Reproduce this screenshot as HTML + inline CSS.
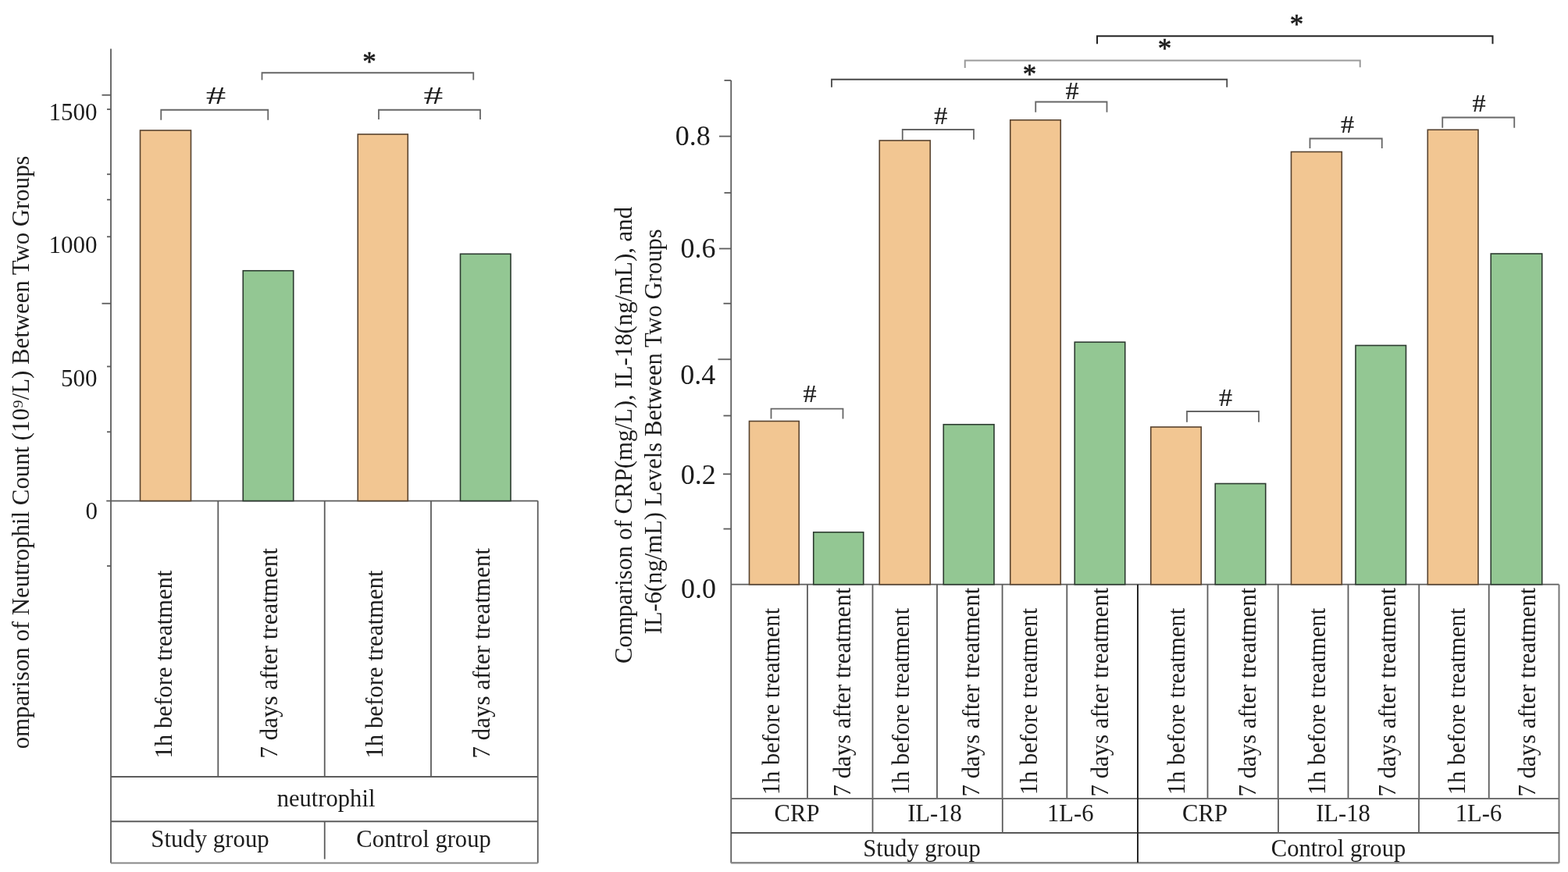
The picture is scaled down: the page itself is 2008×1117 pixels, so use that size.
<!DOCTYPE html>
<html><head><meta charset="utf-8"><style>
html,body{margin:0;padding:0;background:#fff;overflow:hidden;width:2008px;height:1117px;}
svg{display:block;}
text{font-family:'Liberation Serif', 'Times New Roman', serif;fill:#1c1c1c;}
</style></head><body>
<svg width="2008" height="1117" viewBox="0 0 2008 1117">
<rect width="2008" height="1117" fill="#fff"/>
<line x1="142" y1="62.5" x2="142" y2="1105.5" stroke="#5c5c5c" stroke-width="1.8"/>
<line x1="130.5" y1="121.75" x2="142" y2="121.75" stroke="#5c5c5c" stroke-width="1.8"/>
<line x1="137" y1="140" x2="142" y2="140" stroke="#5c5c5c" stroke-width="1.8"/>
<line x1="137" y1="223.25" x2="142" y2="223.25" stroke="#5c5c5c" stroke-width="1.8"/>
<line x1="137" y1="255.75" x2="142" y2="255.75" stroke="#5c5c5c" stroke-width="1.8"/>
<line x1="137" y1="303.25" x2="142" y2="303.25" stroke="#5c5c5c" stroke-width="1.8"/>
<line x1="130.5" y1="388.75" x2="142" y2="388.75" stroke="#5c5c5c" stroke-width="1.8"/>
<line x1="137" y1="469.5" x2="142" y2="469.5" stroke="#5c5c5c" stroke-width="1.8"/>
<line x1="137" y1="553.25" x2="142" y2="553.25" stroke="#5c5c5c" stroke-width="1.8"/>
<line x1="137" y1="725" x2="142" y2="725" stroke="#5c5c5c" stroke-width="1.8"/>
<line x1="136.25" y1="641.6" x2="688.75" y2="641.6" stroke="#5c5c5c" stroke-width="1.8"/>
<rect x="179.5" y="167" width="65.0" height="474.6" fill="#F2C692" stroke="#58432f" stroke-width="1.6"/>
<rect x="311.25" y="346.75" width="64.5" height="294.85" fill="#93C793" stroke="#2c3b30" stroke-width="1.6"/>
<rect x="458.25" y="172" width="64.05" height="469.6" fill="#F2C692" stroke="#58432f" stroke-width="1.6"/>
<rect x="589.5" y="325.3" width="64.5" height="316.3" fill="#93C793" stroke="#2c3b30" stroke-width="1.6"/>
<line x1="279.3" y1="641.6" x2="279.3" y2="995" stroke="#5c5c5c" stroke-width="1.8"/>
<line x1="415.75" y1="641.6" x2="415.75" y2="995" stroke="#5c5c5c" stroke-width="1.8"/>
<line x1="552" y1="641.6" x2="552" y2="995" stroke="#5c5c5c" stroke-width="1.8"/>
<line x1="688.75" y1="641.6" x2="688.75" y2="1105.5" stroke="#5c5c5c" stroke-width="1.8"/>
<line x1="142" y1="995" x2="688.75" y2="995" stroke="#5c5c5c" stroke-width="1.8"/>
<line x1="142" y1="1052.25" x2="688.75" y2="1052.25" stroke="#5c5c5c" stroke-width="1.8"/>
<line x1="142" y1="1105.5" x2="688.75" y2="1105.5" stroke="#888" stroke-width="2.2"/>
<line x1="415.75" y1="1052.25" x2="415.75" y2="1100.5" stroke="#5c5c5c" stroke-width="1.8"/>
<path d="M206.25,153.75 L206.25,140.75 L343.25,140.75 L343.25,153.75" fill="none" stroke="#666" stroke-width="1.8"/>
<path d="M485,153 L485,140.75 L615,140.75 L615,153" fill="none" stroke="#666" stroke-width="1.8"/>
<path d="M335.5,102.5 L335.5,93.25 L606.25,93.25 L606.25,102.5" fill="none" stroke="#666" stroke-width="1.8"/>
<line x1="936.25" y1="103" x2="936.25" y2="1105.5" stroke="#5c5c5c" stroke-width="1.8"/>
<line x1="927.5" y1="103" x2="936.25" y2="103" stroke="#5c5c5c" stroke-width="1.8"/>
<line x1="921" y1="174.6" x2="936.25" y2="174.6" stroke="#5c5c5c" stroke-width="1.8"/>
<line x1="927.5" y1="247" x2="936.25" y2="247" stroke="#5c5c5c" stroke-width="1.8"/>
<line x1="921" y1="318.5" x2="936.25" y2="318.5" stroke="#5c5c5c" stroke-width="1.8"/>
<line x1="926.5" y1="388.75" x2="936.25" y2="388.75" stroke="#5c5c5c" stroke-width="1.8"/>
<line x1="919.5" y1="460.3" x2="936.25" y2="460.3" stroke="#5c5c5c" stroke-width="1.8"/>
<line x1="926.5" y1="532.5" x2="936.25" y2="532.5" stroke="#5c5c5c" stroke-width="1.8"/>
<line x1="926" y1="607.3" x2="936.25" y2="607.3" stroke="#5c5c5c" stroke-width="1.8"/>
<line x1="926.5" y1="677.5" x2="936.25" y2="677.5" stroke="#5c5c5c" stroke-width="1.8"/>
<line x1="936.25" y1="748.7" x2="1996.5" y2="748.7" stroke="#5c5c5c" stroke-width="1.8"/>
<rect x="959.5" y="539.5" width="63.75" height="209.2" fill="#F2C692" stroke="#58432f" stroke-width="1.6"/>
<rect x="1041.75" y="681.75" width="64.0" height="66.95" fill="#93C793" stroke="#2c3b30" stroke-width="1.6"/>
<rect x="1126.25" y="180" width="65.0" height="568.7" fill="#F2C692" stroke="#58432f" stroke-width="1.6"/>
<rect x="1208.25" y="543.75" width="64.75" height="204.95" fill="#93C793" stroke="#2c3b30" stroke-width="1.6"/>
<rect x="1293.75" y="153.75" width="64.5" height="594.95" fill="#F2C692" stroke="#58432f" stroke-width="1.6"/>
<rect x="1376.25" y="438.25" width="64.5" height="310.45" fill="#93C793" stroke="#2c3b30" stroke-width="1.6"/>
<rect x="1473.75" y="547" width="64.5" height="201.7" fill="#F2C692" stroke="#58432f" stroke-width="1.6"/>
<rect x="1556.25" y="619.5" width="64.5" height="129.2" fill="#93C793" stroke="#2c3b30" stroke-width="1.6"/>
<rect x="1653.5" y="194.5" width="64.8" height="554.2" fill="#F2C692" stroke="#58432f" stroke-width="1.6"/>
<rect x="1736" y="442.5" width="64.5" height="306.2" fill="#93C793" stroke="#2c3b30" stroke-width="1.6"/>
<rect x="1828.3" y="166.25" width="64.7" height="582.45" fill="#F2C692" stroke="#58432f" stroke-width="1.6"/>
<rect x="1909.25" y="325" width="65.5" height="423.7" fill="#93C793" stroke="#2c3b30" stroke-width="1.6"/>
<line x1="1034" y1="748.7" x2="1034" y2="1023" stroke="#5c5c5c" stroke-width="1.8"/>
<line x1="1117.5" y1="748.7" x2="1117.5" y2="1023" stroke="#5c5c5c" stroke-width="1.8"/>
<line x1="1200" y1="748.7" x2="1200" y2="1023" stroke="#5c5c5c" stroke-width="1.8"/>
<line x1="1283.6" y1="748.7" x2="1283.6" y2="1023" stroke="#5c5c5c" stroke-width="1.8"/>
<line x1="1366.3" y1="748.7" x2="1366.3" y2="1023" stroke="#5c5c5c" stroke-width="1.8"/>
<line x1="1546.5" y1="748.7" x2="1546.5" y2="1023" stroke="#5c5c5c" stroke-width="1.8"/>
<line x1="1636.75" y1="748.7" x2="1636.75" y2="1023" stroke="#5c5c5c" stroke-width="1.8"/>
<line x1="1726.5" y1="748.7" x2="1726.5" y2="1023" stroke="#5c5c5c" stroke-width="1.8"/>
<line x1="1817.25" y1="748.7" x2="1817.25" y2="1023" stroke="#5c5c5c" stroke-width="1.8"/>
<line x1="1906.75" y1="748.7" x2="1906.75" y2="1023" stroke="#5c5c5c" stroke-width="1.8"/>
<line x1="1996.5" y1="748.7" x2="1996.5" y2="1105.5" stroke="#777" stroke-width="2"/>
<line x1="936.25" y1="1023" x2="1996.5" y2="1023" stroke="#707070" stroke-width="2"/>
<line x1="936.25" y1="1066.9" x2="1996.5" y2="1066.9" stroke="#404040" stroke-width="1.8"/>
<line x1="936.25" y1="1105.3" x2="1996.5" y2="1105.3" stroke="#8a8a8a" stroke-width="2.4"/>
<line x1="1117.5" y1="1023" x2="1117.5" y2="1066.9" stroke="#5c5c5c" stroke-width="1.8"/>
<line x1="1283.8" y1="1023" x2="1283.8" y2="1066.9" stroke="#5c5c5c" stroke-width="1.8"/>
<line x1="1637" y1="1023" x2="1637" y2="1066.9" stroke="#5c5c5c" stroke-width="1.8"/>
<line x1="1817" y1="1023" x2="1817" y2="1066.9" stroke="#5c5c5c" stroke-width="1.8"/>
<line x1="1457" y1="748.7" x2="1457" y2="1105" stroke="#262626" stroke-width="2"/>
<path d="M987.5,536.5 L987.5,523.6 L1079.5,523.6 L1079.5,536.5" fill="none" stroke="#666" stroke-width="1.8"/>
<path d="M1155.75,180 L1155.75,166 L1247,166 L1247,178.75" fill="none" stroke="#666" stroke-width="1.8"/>
<path d="M1326.25,143.75 L1326.25,130.5 L1417.5,130.5 L1417.5,143.75" fill="none" stroke="#666" stroke-width="1.8"/>
<path d="M1520,540.75 L1520,527 L1612,527 L1612,540.75" fill="none" stroke="#666" stroke-width="1.8"/>
<path d="M1677.5,190 L1677.5,177.5 L1769.75,177.5 L1769.75,190" fill="none" stroke="#666" stroke-width="1.8"/>
<path d="M1847.25,163.75 L1847.25,150.5 L1939.25,150.5 L1939.25,163.75" fill="none" stroke="#666" stroke-width="1.8"/>
<path d="M1065,111.75 L1065,101.75 L1571.25,101.75 L1571.25,111.75" fill="none" stroke="#484848" stroke-width="1.8"/>
<path d="M1235.75,87 L1235.75,77.5 L1741.75,77.5 L1741.75,86.25" fill="none" stroke="#9a9a9a" stroke-width="2"/>
<path d="M1405,56.25 L1405,46.25 L1911.5,46.25 L1911.5,56.25" fill="none" stroke="#222" stroke-width="2"/>
<text id="t1500" transform="translate(93.50,153.53)" font-size="31" text-anchor="middle" >1500</text>
<text id="t1000" transform="translate(93.50,324.04)" font-size="31" text-anchor="middle" >1000</text>
<text id="t500" transform="translate(101.20,494.84)" font-size="31" text-anchor="middle" >500</text>
<text id="t0" transform="translate(117.30,665.44)" font-size="31" text-anchor="middle" >0</text>
<text id="Lc1" transform="translate(219.77,851.00) rotate(-90)" font-size="30.8" text-anchor="middle" >1h before treatment</text>
<text id="Lc2" transform="translate(355.04,836.90) rotate(-90)" font-size="31" text-anchor="middle" >7 days after treatment</text>
<text id="Lc3" transform="translate(489.97,851.00) rotate(-90)" font-size="30.8" text-anchor="middle" >1h before treatment</text>
<text id="Lc4" transform="translate(626.54,836.90) rotate(-90)" font-size="31" text-anchor="middle" >7 days after treatment</text>
<text id="neut" transform="translate(417.50,1032.90)" font-size="30.6" text-anchor="middle" >neutrophil</text>
<text id="studyL" transform="translate(269.00,1085.47)" font-size="30.8" text-anchor="middle" >Study group</text>
<text id="ctrlL" transform="translate(542.50,1084.90)" font-size="30.6" text-anchor="middle" >Control group</text>
<text id="ylabL" transform="translate(36.97,579.40) rotate(-90)" font-size="30.8" text-anchor="middle" >omparison of Neutrophil Count (10⁹/L) Between Two Groups</text>
<text id="hL1" transform="translate(276.60,132.84) scale(1.65,1)" font-size="31" text-anchor="middle" >#</text>
<text id="hL2" transform="translate(555.01,133.04) scale(1.6,1)" font-size="31" text-anchor="middle" >#</text>
<text id="sL" transform="translate(473.01,91.40)" font-size="35" text-anchor="middle" stroke="#1c1c1c" stroke-width="0.6">*</text>
<text id="r08" transform="translate(887.30,186.44)" font-size="36" text-anchor="middle" >0.8</text>
<text id="r06" transform="translate(894.00,329.84)" font-size="36" text-anchor="middle" >0.6</text>
<text id="r04" transform="translate(893.70,491.84)" font-size="36" text-anchor="middle" >0.4</text>
<text id="r02" transform="translate(894.30,619.84)" font-size="36" text-anchor="middle" >0.2</text>
<text id="r00" transform="translate(894.50,765.64)" font-size="36" text-anchor="middle" >0.0</text>
<text id="Rc1" transform="translate(997.90,898.60) rotate(-90)" font-size="30.6" text-anchor="middle" >1h before treatment</text>
<text id="Rc2" transform="translate(1089.07,886.60) rotate(-90)" font-size="30.8" text-anchor="middle" >7 days after treatment</text>
<text id="Rc3" transform="translate(1163.90,898.60) rotate(-90)" font-size="30.6" text-anchor="middle" >1h before treatment</text>
<text id="Rc4" transform="translate(1253.87,886.60) rotate(-90)" font-size="30.8" text-anchor="middle" >7 days after treatment</text>
<text id="Rc5" transform="translate(1327.70,898.60) rotate(-90)" font-size="30.6" text-anchor="middle" >1h before treatment</text>
<text id="Rc6" transform="translate(1419.07,886.60) rotate(-90)" font-size="30.8" text-anchor="middle" >7 days after treatment</text>
<text id="Rc7" transform="translate(1516.90,898.60) rotate(-90)" font-size="30.6" text-anchor="middle" >1h before treatment</text>
<text id="Rc8" transform="translate(1607.67,886.60) rotate(-90)" font-size="30.8" text-anchor="middle" >7 days after treatment</text>
<text id="Rc9" transform="translate(1696.90,898.60) rotate(-90)" font-size="30.6" text-anchor="middle" >1h before treatment</text>
<text id="Rc10" transform="translate(1787.07,886.60) rotate(-90)" font-size="30.8" text-anchor="middle" >7 days after treatment</text>
<text id="Rc11" transform="translate(1875.90,898.60) rotate(-90)" font-size="30.6" text-anchor="middle" >1h before treatment</text>
<text id="Rc12" transform="translate(1966.07,886.60) rotate(-90)" font-size="30.8" text-anchor="middle" >7 days after treatment</text>
<text id="crpS" transform="translate(1020.51,1051.90)" font-size="30.6" text-anchor="middle" >CRP</text>
<text id="il18S" transform="translate(1196.98,1051.90)" font-size="30.6" text-anchor="middle" >IL-18</text>
<text id="il6S" transform="translate(1370.70,1051.50)" font-size="30.6" text-anchor="middle" >1L-6</text>
<text id="crpC" transform="translate(1542.98,1051.90)" font-size="30.6" text-anchor="middle" >CRP</text>
<text id="il18C" transform="translate(1720.00,1051.90)" font-size="30.6" text-anchor="middle" >IL-18</text>
<text id="il6C" transform="translate(1893.50,1051.50)" font-size="30.6" text-anchor="middle" >1L-6</text>
<text id="studyR" transform="translate(1180.50,1097.40)" font-size="30.6" text-anchor="middle" >Study group</text>
<text id="ctrlR" transform="translate(1714.00,1096.90)" font-size="30.6" text-anchor="middle" >Control group</text>
<text id="ylabR1" transform="translate(809.47,557.50) rotate(-90)" font-size="30.8" text-anchor="middle" >Comparison of CRP(mg/L), IL-18(ng/mL), and</text>
<text id="ylabR2" transform="translate(847.30,552.80) rotate(-90)" font-size="30.6" text-anchor="middle" >IL-6(ng/mL) Levels Between Two Groups</text>
<text id="hR0" transform="translate(1037.02,514.87) scale(1.07,1)" font-size="32" text-anchor="middle" stroke="#1c1c1c" stroke-width="0.2">#</text>
<text id="hR1" transform="translate(1204.90,158.58) scale(1.07,1)" font-size="32" text-anchor="middle" stroke="#1c1c1c" stroke-width="0.2">#</text>
<text id="hR2" transform="translate(1372.98,127.38) scale(1.07,1)" font-size="32" text-anchor="middle" stroke="#1c1c1c" stroke-width="0.2">#</text>
<text id="hR3" transform="translate(1569.52,519.89) scale(1.07,1)" font-size="32" text-anchor="middle" stroke="#1c1c1c" stroke-width="0.2">#</text>
<text id="hR4" transform="translate(1725.52,169.87) scale(1.07,1)" font-size="32" text-anchor="middle" stroke="#1c1c1c" stroke-width="0.2">#</text>
<text id="hR5" transform="translate(1893.98,143.38) scale(1.07,1)" font-size="32" text-anchor="middle" stroke="#1c1c1c" stroke-width="0.2">#</text>
<text id="sR0" transform="translate(1318.52,106.90)" font-size="35" text-anchor="middle" stroke="#1c1c1c" stroke-width="0.6">*</text>
<text id="sR1" transform="translate(1491.50,74.40)" font-size="35" text-anchor="middle" stroke="#1c1c1c" stroke-width="0.6">*</text>
<text id="sR2" transform="translate(1660.60,43.30)" font-size="35" text-anchor="middle" stroke="#1c1c1c" stroke-width="0.6">*</text>
</svg>
</body></html>
